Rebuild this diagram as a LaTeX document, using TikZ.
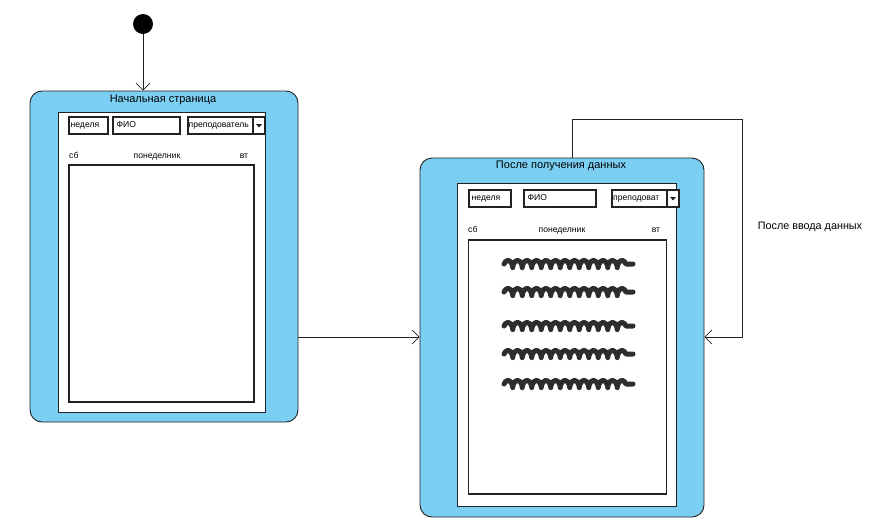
\documentclass[tikz,border=0pt]{standalone}
\usepackage{fontspec}
\setmainfont{Liberation Sans}
\usetikzlibrary{arrows.meta,decorations.pathmorphing}
\definecolor{statefill}{HTML}{7BCFF3}
\definecolor{ink}{HTML}{222222}
\begin{document}
\begin{tikzpicture}[x=1pt,y=-1pt,
  state/.style={draw=ink, fill=statefill, rounded corners=12pt, line width=0.9pt, inner sep=0},
  page/.style={draw=ink, fill=white, line width=0.8pt, inner sep=0},
  field/.style={draw=ink, fill=white, line width=1.1pt, inner sep=0},
  frame/.style={draw=ink, fill=white, line width=1.5pt, inner sep=0},
  small/.style={font=\fontsize{8.6}{10}\selectfont, inner sep=0, text height=6pt, text depth=1.5pt},
  title/.style={font=\fontsize{11}{13}\selectfont, inner sep=0},
  flow/.style={draw=ink, line width=0.6pt, -{Straight Barb[length=7pt,width=14pt]}},
  scribble/.style={draw=ink!95, line width=5pt, line cap=round, line join=round, decorate,
    decoration={coil, aspect=0.45, amplitude=3.6pt, segment length=9.5pt}},
]
\useasboundingbox (0,0) rectangle (876,531);

% initial state
\node[circle, fill=black, minimum size=20pt, inner sep=0] (start) at (143,24) {};

% ---------- state 1 ----------
\node[state, minimum width=268pt, minimum height=331pt] (s1) at (164,256.5) {};
\node[title] (t1) at (163,100) {Начальная страница};
\node[page, minimum width=207pt, minimum height=300pt] (p1) at (161.5,262) {};
\node[field, minimum width=39pt, minimum height=17pt] (w1) at (88.5,125.5) {};
\node[small, anchor=west] (w1t) at ([xshift=2pt]w1.west) {неделя};
\node[field, minimum width=67pt, minimum height=17pt] (f1) at (146.5,125.5) {};
\node[small, anchor=west] (f1t) at ([xshift=4pt]f1.west) {ФИО};
\node[field, minimum width=65pt, minimum height=17pt] (r1) at (220.5,125.5) {};
\node[small, anchor=west] (r1t) at ([xshift=1pt]r1.west) {преподователь};
\node[field, minimum width=12pt, minimum height=17pt] (d1) at (259,125.5) {};
\fill[ink] ([xshift=-3pt,yshift=1.5pt]d1.center) -- ([xshift=3pt,yshift=1.5pt]d1.center)
  -- ([yshift=-2pt]d1.center) -- cycle;
\node[small, anchor=west] (sb1) at (69,156) {сб};
\node[small] (mo1) at (157,156) {понеделник};
\node[small] (tu1) at (244,156) {вт};
\node[frame, minimum width=185pt, minimum height=237pt] (g1) at (161.5,283.5) {};

% ---------- state 2 ----------
\node[state, minimum width=284pt, minimum height=359pt] (s2) at (562,337.5) {};
\node[title] (t2) at (561,166) {После получения данных};
\node[page, minimum width=219pt, minimum height=323pt] (p2) at (566.5,344.5) {};
\node[field, minimum width=42pt, minimum height=17pt] (w2) at (490,198.5) {};
\node[small, anchor=west] (w2t) at ([xshift=3pt]w2.west) {неделя};
\node[field, minimum width=72pt, minimum height=17pt] (f2) at (560,198.5) {};
\node[small, anchor=west] (f2t) at ([xshift=4pt]f2.west) {ФИО};
\node[field, minimum width=55pt, minimum height=17pt] (r2) at (639.5,198.5) {};
\node[small, anchor=west] (r2t) at ([xshift=1.5pt]r2.west) {преподоват};
\node[field, minimum width=12pt, minimum height=17pt] (d2) at (673,198.5) {};
\fill[ink] ([xshift=-3pt,yshift=1.5pt]d2.center) -- ([xshift=3pt,yshift=1.5pt]d2.center)
  -- ([yshift=-2pt]d2.center) -- cycle;
\node[small, anchor=west] (sb2) at (468,230) {сб};
\node[small] (mo2) at (562,230) {понеделник};
\node[small] (tu2) at (656,230) {вт};
\node[frame, minimum width=198pt, minimum height=254pt] (g2) at (567.5,367) {};
\foreach \yy in {264,292,326,354,384}
  \draw[scribble] (504,\yy) -- (633,\yy);

% ---------- transitions ----------
\coordinate (mid) at (0,337);
\coordinate (loopTop) at (742,119);
\draw[flow] (start) -- (start |- s1.north);
\draw[flow] (s1.east |- mid) -- (s2.west |- mid);
\draw[flow] ([xshift=10pt]s2.north) |- (loopTop) |- (s2.east |- mid);
\node[font=\fontsize{10.8}{13}\selectfont, inner sep=0] (lbl) at (810,227) {После ввода данных};
\end{tikzpicture}
\end{document}
